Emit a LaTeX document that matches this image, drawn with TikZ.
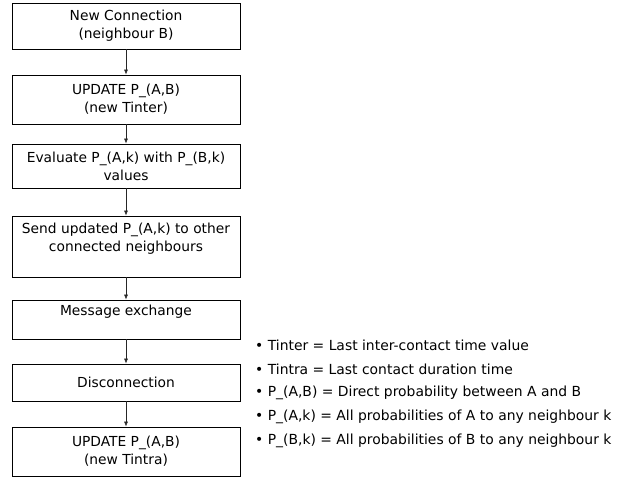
\documentclass[tikz,border=0pt]{standalone}
\usepackage{fontspec}
\setmainfont{DejaVu Sans}
\usetikzlibrary{arrows.meta}
\tikzset{%
  >={Latex[width=4pt,length=5pt]},
  % Specifications for style of nodes:
     flowbox/.style = {rectangle, draw=black, line width=0.8pt,
                       minimum width=228pt, inner sep=0pt,
                       text centered, align=center,
                       font=\fontsize{13.8}{18}\selectfont},
  legendline/.style = {anchor=west, inner sep=0pt,
                       font=\fontsize{13.9}{16}\selectfont},
        flowarr/.style = {->, line width=0.6pt, draw=black!85},
}

\begin{document}
\begin{tikzpicture}[x=1pt, y=-1pt]
  \useasboundingbox (0,0) rectangle (617,477);

  % Specification of nodes (position, etc.)
  \node (newConn)   [flowbox, minimum height=46pt] at (126,26)
                    {New Connection\\(neighbour B)};
  \node (updInter)  [flowbox, minimum height=49pt] at (126,99.5)
                    {UPDATE P\_(A,B)\\(new Tinter)};
  \node (evalProb)  [flowbox, minimum height=44pt] at (126,166)
                    {Evaluate P\_(A,k) with P\_(B,k)\\values};
  \node (sendProb)  [flowbox, minimum height=61pt] at (126,246.5)
                    {Send updated P\_(A,k) to other\\connected neighbours\\\mbox{}};
  \node (msgExch)   [flowbox, minimum height=39pt] at (126,319.5)
                    {Message exchange\\\mbox{}};
  \node (disConn)   [flowbox, minimum height=37pt] at (126,382.5)
                    {Disconnection};
  \node (updIntra)  [flowbox, minimum height=49pt] at (126,451.5)
                    {UPDATE P\_(A,B)\\(new Tintra)};

  % legend on the right
  \node (legInter)  [legendline] at (255,345) {• Tinter = Last inter-contact time value};
  \node (legIntra)  [legendline] at (255,369) {• Tintra = Last contact duration time};
  \node (legPAB)    [legendline] at (255,393) {• P\_(A,B) = Direct probability between A and B};
  \node (legPAk)    [legendline] at (255,417) {• P\_(A,k) = All probabilities of A to any neighbour k};
  \node (legPBk)    [legendline] at (255,441) {• P\_(B,k) = All probabilities of B to any neighbour k};

  % Specification of lines between nodes specified above
  \draw[flowarr] (newConn)  -- (updInter);
  \draw[flowarr] (updInter) -- (evalProb);
  \draw[flowarr] (evalProb) -- (sendProb);
  \draw[flowarr] (sendProb) -- (msgExch);
  \draw[flowarr] (msgExch)  -- (disConn);
  \draw[flowarr] (disConn)  -- (updIntra);

\end{tikzpicture}
\end{document}
